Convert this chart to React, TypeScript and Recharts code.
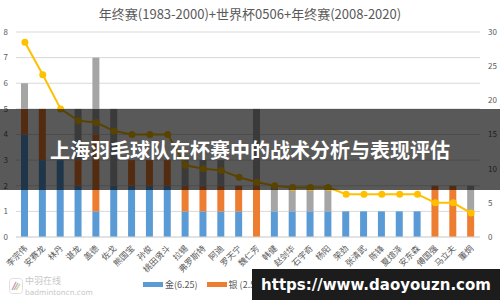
import React from 'react';
import { ComposedChart, Bar, Line, XAxis, YAxis, CartesianGrid } from 'recharts';

const players = [
  '李宗伟', '安赛龙', '林丹', '谌龙', '盖德', '佐戈', '熊国宝', '孙俊', '桃田贤斗', '拉锡',
  '弗罗斯特', '阿迪', '罗天宁', '魏仁芳', '韩健', '赵剑华', '石宇奇', '杨阳', '荣劲', '张清武',
  '陈锋', '夏煊泽', '安东森', '傅国强', '马立夫', '董炯',
];
const gold = [4, 3, 3, 2, 1, 2, 2, 2, 2, 1, 1, 1, 1, 0, 1, 1, 1, 1, 1, 1, 1, 1, 1, 0, 0, 0];
const silver = [1, 2, 0, 1, 3, 0, 1, 1, 1, 1, 1, 1, 1, 2, 0, 0, 0, 0, 0, 0, 0, 0, 0, 2, 2, 1];
const bronze = [1, 0, 0, 2, 3, 3, 0, 0, 0, 1, 1, 1, 0, 3, 1, 1, 1, 1, 0, 0, 0, 0, 0, 0, 0, 1];
const score = [28.5, 23.75, 18.75, 17, 16.75, 15.5, 15, 15, 15, 10.5, 10, 9.75, 8.75, 8, 7.5, 7.25, 7.25, 7.25, 6.25, 6.25, 6.25, 6.25, 6.25, 5, 5, 3.5];

const leftTicks = [0, 1, 2, 3, 4, 5, 6, 7, 8];
const rightTicks = [0, 5, 10, 15, 20, 25, 30];

const data = players.map((name, i) => ({
  name,
  gold: gold[i],
  silver: silver[i],
  bronze: bronze[i],
  score: score[i],
}));

const FONT = '"Microsoft YaHei", "Noto Sans CJK SC", sans-serif';

const NameTick = (props: any) => {
  const { x, y, payload } = props;
  return (
    <text
      x={x + 3}
      y={y + 4}
      textAnchor="end"
      fontSize={8.5}
      fill="#595959"
      fontFamily={FONT}
      transform={`rotate(-45 ${x + 3} ${y + 4})`}
    >
      {payload.value}
    </text>
  );
};

// only the two legend entries not hidden by the watermark box
const legendItems = [
  { label: '金(6.25)', color: '#5b9bd5' },
  { label: '银 (2.5)', color: '#ed7d31' },
];

export default function App() {
  return (
    <div style={{ position: 'fixed', left: 0, top: 0, width: 500, height: 300, background: '#fff', fontFamily: FONT, overflow: 'hidden' }}>
      <div style={{ position: 'absolute', top: 4, width: 500, textAlign: 'center', fontSize: 13, color: '#595959' }}>
        年终赛(1983-2000)+世界杯0506+年终赛(2008-2020)
      </div>
      <ComposedChart width={500} height={300} data={data} margin={{ top: 32, right: 0, left: 0, bottom: 23 }} barSize={7}>
        <CartesianGrid vertical={false} stroke="#d9d9d9" yAxisId="left" />
        <XAxis dataKey="name" interval={0} tick={<NameTick />} tickLine={false} axisLine={{ stroke: '#d9d9d9' }} height={40} />
        <YAxis yAxisId="left" domain={[0, 8]} ticks={leftTicks} width={16} tickLine={false} axisLine={false} tick={{ fontSize: 8, fill: '#595959' }} />
        <YAxis yAxisId="right" orientation="right" domain={[0, 30]} ticks={rightTicks} width={20} tickLine={false} axisLine={false} tick={{ fontSize: 8, fill: '#595959' }} />
        <Bar yAxisId="left" dataKey="gold" stackId="m" fill="#5b9bd5" isAnimationActive={false} />
        <Bar yAxisId="left" dataKey="silver" stackId="m" fill="#ed7d31" isAnimationActive={false} />
        <Bar yAxisId="left" dataKey="bronze" stackId="m" fill="#a5a5a5" isAnimationActive={false} />
        <Line yAxisId="right" dataKey="score" stroke="#ffc000" strokeWidth={2} dot={{ r: 2.5, fill: '#ffc000', stroke: '#ffc000' }} isAnimationActive={false} />
      </ComposedChart>
      <div style={{ position: 'absolute', left: 143, top: 278, display: 'flex', gap: 9, fontSize: 9, color: '#595959' }}>
        {legendItems.map(it => (
          <div key={it.label} style={{ display: 'flex', alignItems: 'center', gap: 2 }}>
            <span style={{ display: 'inline-block', width: 20, height: 5, background: it.color }} />
            <span>{it.label}</span>
          </div>
        ))}
      </div>
      <svg style={{ position: 'absolute', left: 9, top: 278 }} width={14} height={16}>
        <rect x={0.5} y={0.5} width={13} height={15} rx={3} fill="none" stroke="#e0e0e0" />
        <path d="M3 12 L7 4" stroke="#e6a0a0" strokeWidth={1.5} />
        <path d="M5 12 L9 5" stroke="#a0c0e6" strokeWidth={1.5} />
        <path d="M7 12 L11 6" stroke="#e6d090" strokeWidth={1.5} />
      </svg>
      <div style={{ position: 'absolute', left: 25, top: 276, color: '#c8c8c8', fontSize: 9, lineHeight: '10px' }}>中羽在线</div>
      <div style={{ position: 'absolute', left: 25, top: 288, color: '#c8c8c8', fontSize: 7.5, lineHeight: '9px', fontFamily: '"DejaVu Sans", sans-serif' }}>badmintoncn.com</div>
      <div style={{ position: 'absolute', left: 0, top: 109, width: 500, height: 81, background: 'rgba(0,0,0,0.65)', display: 'flex', alignItems: 'center', justifyContent: 'center' }}>
        <span style={{ color: '#fff', fontSize: 20, fontWeight: 700 }}>上海羽毛球队在杯赛中的战术分析与表现评估</span>
      </div>
      <div style={{ position: 'absolute', left: 252, top: 269, width: 248, height: 31, background: '#1c1c1c', display: 'flex', alignItems: 'center', justifyContent: 'center' }}>
        <span style={{ color: '#fff', fontSize: 15, fontFamily: '"DejaVu Sans", sans-serif', fontWeight: 700 }}>https://www.daoyouzn.com</span>
      </div>
    </div>
  );
}
